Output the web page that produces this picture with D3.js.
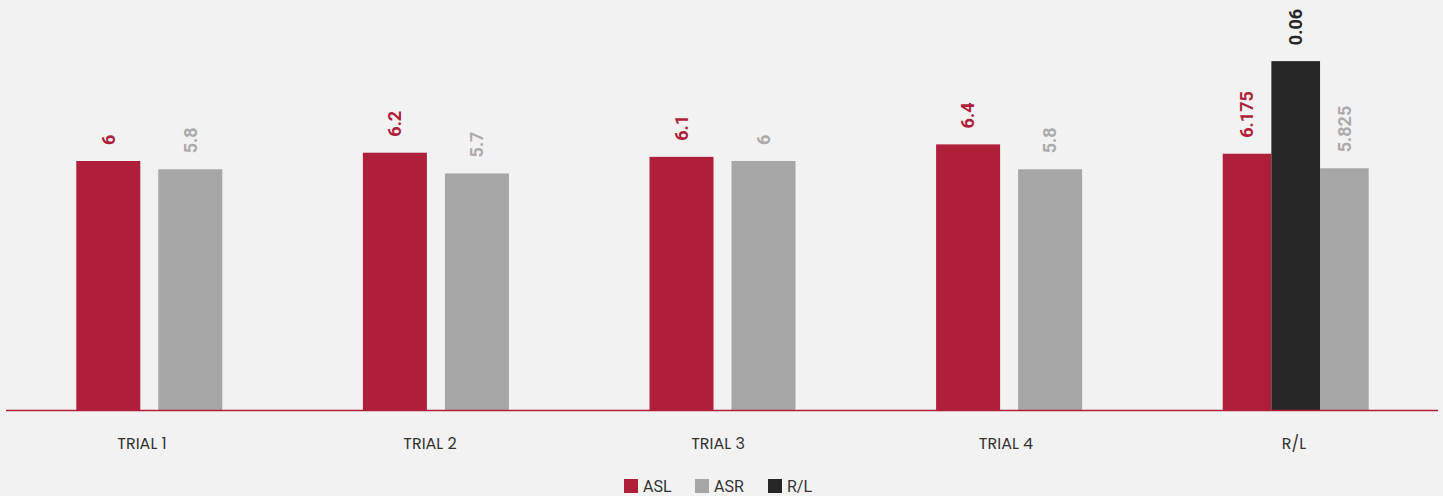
<!DOCTYPE html>
<html><head><meta charset="utf-8">
<script src="https://cdn.jsdelivr.net/npm/d3@7"></script>
<style>
html,body{margin:0;padding:0;background:#f2f2f2;}
svg{display:block;}
</style></head>
<body>
<svg id="c" width="1443" height="496"></svg>
<script>
const categories = ["TRIAL 1","TRIAL 2","TRIAL 3","TRIAL 4","R/L"];
const aslValues = [6, 6.2, 6.1, 6.4, 6.175];
const asrValues = [5.8, 5.7, 6, 5.8, 5.825];
const rlValues  = [null, null, null, null, 0.06];
const seriesNames = ["ASL","ASR","R/L"];
const seriesColors = {"ASL":"#b01f3a","ASR":"#a6a6a6","R/L":"#262626"};
const labelColors = {"ASL":"#b01f3a","ASR":"#ababab","R/L":"#262626"};

const svg = d3.select("#c");
const baseY = 410;

const x = d3.scaleBand().domain(categories).range([6, 1439]).paddingInner(0);
const xLab = d3.scaleBand().domain(categories).range([-2, 1438]);
const y = d3.scaleLinear().domain([0, 10]).range([baseY, -5]);
const y2 = d3.scaleLinear().domain([0, 0.07]).range([baseY, 3]);

const groupW = 146;

const data = categories.map((c, i) => {
  const s = [];
  s.push({series:"ASL", value: aslValues[i], scale: y});
  if (rlValues[i] != null) s.push({series:"R/L", value: rlValues[i], scale: y2});
  s.push({series:"ASR", value: asrValues[i], scale: y});
  return {cat: c, items: s};
});

const g = svg.append("g");
data.forEach(d => {
  const start = x(d.cat) + (x.bandwidth() - groupW) / 2;
  const inner = d3.scaleBand().domain(d.items.map(s => s.series))
    .range([start, start + groupW])
    .paddingInner(d.items.length === 2 ? 18/82 : 0);
  d.items.forEach(s => {
    const top = s.scale(s.value);
    g.append("rect")
      .attr("x", inner(s.series)).attr("width", inner.bandwidth())
      .attr("y", top).attr("height", baseY - top)
      .attr("fill", seriesColors[s.series]);
    const cx = inner(s.series) + inner.bandwidth() / 2;
    const ly = top - 16;
    g.append("text")
      .attr("transform", `translate(${cx},${ly}) rotate(-90)`)
      .attr("text-anchor", "start")
      .attr("dy", "0.35em")
      .attr("font-family", "Roboto, 'Open Sans', sans-serif")
      .attr("font-weight", 700)
      .attr("font-size", 18)
      .attr("fill", labelColors[s.series])
      .text(s.value);
  });
});

// x axis line
svg.append("line")
  .attr("x1", 6).attr("x2", 1438)
  .attr("y1", baseY + 0.5).attr("y2", baseY + 0.5)
  .attr("stroke", "#b01f3a").attr("stroke-width", 1.5);

// category labels
svg.append("g").selectAll("text").data(categories).join("text")
  .attr("x", d => xLab(d) + xLab.bandwidth() / 2)
  .attr("y", 449)
  .attr("text-anchor", "middle")
  .attr("font-family", "Poppins, 'Open Sans', sans-serif")
  .attr("font-size", 16)
  .attr("fill", "#333")
  .text(d => d);

// legend
const legend = svg.append("g");
const legendX = d3.scaleOrdinal().domain(seriesNames).range([624, 695, 768]);
seriesNames.forEach(n => {
  const gx = legendX(n);
  legend.append("rect").attr("x", gx).attr("y", 479).attr("width", 14).attr("height", 14)
    .attr("fill", seriesColors[n]);
  legend.append("text").attr("x", gx + 19).attr("y", 492)
    .attr("font-family", "Roboto, sans-serif")
    .attr("font-size", 16).attr("fill", "#333").text(n);
});
</script>
</body></html>
